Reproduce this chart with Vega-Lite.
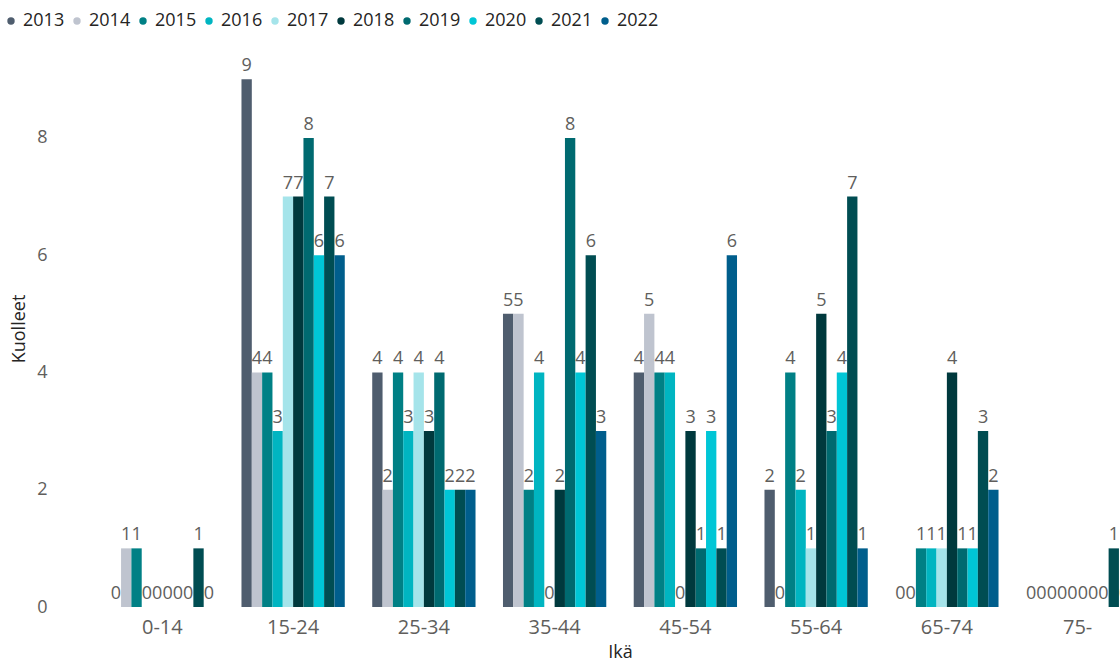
{
  "$schema": "https://vega.github.io/schema/vega-lite/v6.json",
  "autosize": "none",
  "width": 1023,
  "height": 557,
  "padding": {"left": 97, "top": 50, "right": 0, "bottom": 55},
  "background": "white",
  "config": {
    "font": "Open Sans",
    "view": {"stroke": null},
    "axis": {"grid": false, "domain": false, "ticks": false}
  },
  "data": {
    "values": [
      {"ika": "0-14", "vuosi": "2013", "kuolleet": 0},
      {"ika": "0-14", "vuosi": "2014", "kuolleet": 1},
      {"ika": "0-14", "vuosi": "2015", "kuolleet": 1},
      {"ika": "0-14", "vuosi": "2016", "kuolleet": 0},
      {"ika": "0-14", "vuosi": "2017", "kuolleet": 0},
      {"ika": "0-14", "vuosi": "2018", "kuolleet": 0},
      {"ika": "0-14", "vuosi": "2019", "kuolleet": 0},
      {"ika": "0-14", "vuosi": "2020", "kuolleet": 0},
      {"ika": "0-14", "vuosi": "2021", "kuolleet": 1},
      {"ika": "0-14", "vuosi": "2022", "kuolleet": 0},
      {"ika": "15-24", "vuosi": "2013", "kuolleet": 9},
      {"ika": "15-24", "vuosi": "2014", "kuolleet": 4},
      {"ika": "15-24", "vuosi": "2015", "kuolleet": 4},
      {"ika": "15-24", "vuosi": "2016", "kuolleet": 3},
      {"ika": "15-24", "vuosi": "2017", "kuolleet": 7},
      {"ika": "15-24", "vuosi": "2018", "kuolleet": 7},
      {"ika": "15-24", "vuosi": "2019", "kuolleet": 8},
      {"ika": "15-24", "vuosi": "2020", "kuolleet": 6},
      {"ika": "15-24", "vuosi": "2021", "kuolleet": 7},
      {"ika": "15-24", "vuosi": "2022", "kuolleet": 6},
      {"ika": "25-34", "vuosi": "2013", "kuolleet": 4},
      {"ika": "25-34", "vuosi": "2014", "kuolleet": 2},
      {"ika": "25-34", "vuosi": "2015", "kuolleet": 4},
      {"ika": "25-34", "vuosi": "2016", "kuolleet": 3},
      {"ika": "25-34", "vuosi": "2017", "kuolleet": 4},
      {"ika": "25-34", "vuosi": "2018", "kuolleet": 3},
      {"ika": "25-34", "vuosi": "2019", "kuolleet": 4},
      {"ika": "25-34", "vuosi": "2020", "kuolleet": 2},
      {"ika": "25-34", "vuosi": "2021", "kuolleet": 2},
      {"ika": "25-34", "vuosi": "2022", "kuolleet": 2},
      {"ika": "35-44", "vuosi": "2013", "kuolleet": 5},
      {"ika": "35-44", "vuosi": "2014", "kuolleet": 5},
      {"ika": "35-44", "vuosi": "2015", "kuolleet": 2},
      {"ika": "35-44", "vuosi": "2016", "kuolleet": 4},
      {"ika": "35-44", "vuosi": "2017", "kuolleet": 0},
      {"ika": "35-44", "vuosi": "2018", "kuolleet": 2},
      {"ika": "35-44", "vuosi": "2019", "kuolleet": 8},
      {"ika": "35-44", "vuosi": "2020", "kuolleet": 4},
      {"ika": "35-44", "vuosi": "2021", "kuolleet": 6},
      {"ika": "35-44", "vuosi": "2022", "kuolleet": 3},
      {"ika": "45-54", "vuosi": "2013", "kuolleet": 4},
      {"ika": "45-54", "vuosi": "2014", "kuolleet": 5},
      {"ika": "45-54", "vuosi": "2015", "kuolleet": 4},
      {"ika": "45-54", "vuosi": "2016", "kuolleet": 4},
      {"ika": "45-54", "vuosi": "2017", "kuolleet": 0},
      {"ika": "45-54", "vuosi": "2018", "kuolleet": 3},
      {"ika": "45-54", "vuosi": "2019", "kuolleet": 1},
      {"ika": "45-54", "vuosi": "2020", "kuolleet": 3},
      {"ika": "45-54", "vuosi": "2021", "kuolleet": 1},
      {"ika": "45-54", "vuosi": "2022", "kuolleet": 6},
      {"ika": "55-64", "vuosi": "2013", "kuolleet": 2},
      {"ika": "55-64", "vuosi": "2014", "kuolleet": 0},
      {"ika": "55-64", "vuosi": "2015", "kuolleet": 4},
      {"ika": "55-64", "vuosi": "2016", "kuolleet": 2},
      {"ika": "55-64", "vuosi": "2017", "kuolleet": 1},
      {"ika": "55-64", "vuosi": "2018", "kuolleet": 5},
      {"ika": "55-64", "vuosi": "2019", "kuolleet": 3},
      {"ika": "55-64", "vuosi": "2020", "kuolleet": 4},
      {"ika": "55-64", "vuosi": "2021", "kuolleet": 7},
      {"ika": "55-64", "vuosi": "2022", "kuolleet": 1},
      {"ika": "65-74", "vuosi": "2013", "kuolleet": 0},
      {"ika": "65-74", "vuosi": "2014", "kuolleet": 0},
      {"ika": "65-74", "vuosi": "2015", "kuolleet": 1},
      {"ika": "65-74", "vuosi": "2016", "kuolleet": 1},
      {"ika": "65-74", "vuosi": "2017", "kuolleet": 1},
      {"ika": "65-74", "vuosi": "2018", "kuolleet": 4},
      {"ika": "65-74", "vuosi": "2019", "kuolleet": 1},
      {"ika": "65-74", "vuosi": "2020", "kuolleet": 1},
      {"ika": "65-74", "vuosi": "2021", "kuolleet": 3},
      {"ika": "65-74", "vuosi": "2022", "kuolleet": 2},
      {"ika": "75-", "vuosi": "2013", "kuolleet": 0},
      {"ika": "75-", "vuosi": "2014", "kuolleet": 0},
      {"ika": "75-", "vuosi": "2015", "kuolleet": 0},
      {"ika": "75-", "vuosi": "2016", "kuolleet": 0},
      {"ika": "75-", "vuosi": "2017", "kuolleet": 0},
      {"ika": "75-", "vuosi": "2018", "kuolleet": 0},
      {"ika": "75-", "vuosi": "2019", "kuolleet": 0},
      {"ika": "75-", "vuosi": "2020", "kuolleet": 0},
      {"ika": "75-", "vuosi": "2021", "kuolleet": 1},
      {"ika": "75-", "vuosi": "2022", "kuolleet": 0}
    ]
  },
  "encoding": {
    "x": {
      "field": "ika",
      "type": "nominal",
      "sort": null,
      "scale": {"paddingInner": 0.21, "paddingOuter": 0.105, "range": [0, 1046]},
      "axis": {
        "title": "Ikä",
        "labelAngle": 0,
        "labelFontSize": 20,
        "labelColor": "#605E5C",
        "labelPadding": 10,
        "titleFontSize": 18,
        "titleFontWeight": "normal",
        "titleColor": "#252423",
        "titleBaseline": "middle",
        "titleAnchor": "middle",
        "titleX": 523,
        "titleY": 45
      }
    },
    "xOffset": {"field": "vuosi", "type": "nominal", "sort": "ascending", "scale": {"paddingInner": 0, "paddingOuter": 0}},
    "y": {
      "field": "kuolleet",
      "type": "quantitative",
      "scale": {"domain": [0, 9.5], "nice": false},
      "axis": {
        "title": "Kuolleet",
        "values": [0, 2, 4, 6, 8],
        "labelFontSize": 18,
        "labelColor": "#605E5C",
        "labelPadding": 50,
        "titleFontSize": 18,
        "titleFontWeight": "normal",
        "titleColor": "#252423",
        "titlePadding": 8
      }
    }
  },
  "layer": [
    {
      "mark": {"type": "bar", "clip": true},
      "encoding": {
        "color": {
          "field": "vuosi",
          "type": "nominal",
          "scale": {
            "domain": ["2013", "2014", "2015", "2016", "2017", "2018", "2019", "2020", "2021", "2022"],
            "range": ["#4F5D6E", "#BFC4CF", "#008085", "#00B5C1", "#A5E4EA", "#00393D", "#006A70", "#00C6D6", "#004D52", "#005E8C"]
          },
          "legend": {
            "title": null,
            "orient": "none",
            "legendX": -95,
            "legendY": -38,
            "direction": "horizontal",
            "columns": 10,
            "symbolType": "circle",
            "symbolSize": 55,
            "symbolStrokeWidth": 0,
            "labelFontSize": 18,
            "labelColor": "#252423",
            "labelOffset": 3,
            "columnPadding": 3,
            "padding": 0
          }
        }
      }
    },
    {
      "mark": {"type": "text", "clip": true, "baseline": "alphabetic", "dy": -8, "fontSize": 18, "color": "#605E5C"},
      "encoding": {
        "text": {"field": "kuolleet", "type": "quantitative"}
      }
    }
  ]
}
